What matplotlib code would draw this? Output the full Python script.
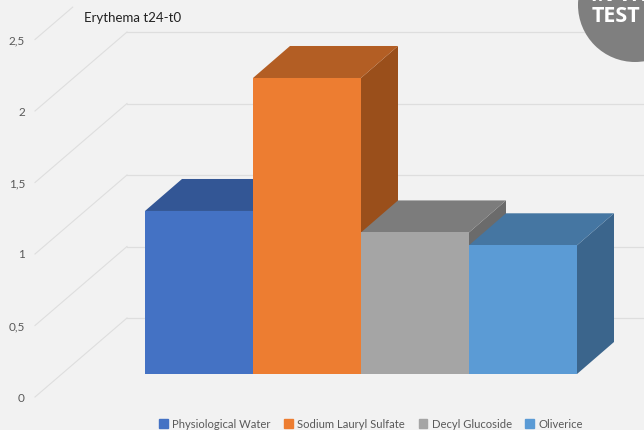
import matplotlib
matplotlib.use("Agg")
import matplotlib.pyplot as plt
from matplotlib.patches import Polygon, Ellipse, Patch

categories = ["Physiological Water", "Sodium Lauryl Sulfate", "Decyl Glucoside", "Oliverice"]
values = [1.14, 2.07, 0.99, 0.90]
ticks = [0, 0.5, 1, 1.5, 2, 2.5]
tick_labels = ["0", "0,5", "1", "1,5", "2", "2,5"]

front_colors = ["#4472c4", "#ed7d31", "#a5a5a5", "#5b9bd5"]
top_colors = ["#335695", "#b35e24", "#7c7c7c", "#4576a2"]
side_colors = ["#2f4f88", "#9a4f1b", "#6b6b6b", "#3b658c"]

W, H = 644, 430
PX = 108.0   # pixels per category
PY = 143.0   # pixels per unit

# oblique depth in data units
bar_dx, bar_dy = 37 / PX, 32 / PY
wall_dx, wall_dy = 92 / PX, 79 / PY
front_dx, front_dy = -110 / PX, -23 / PY

plt.rcParams["font.family"] = ["Lato", "DejaVu Sans"]
fig = plt.figure(figsize=(W / 100, H / 100), dpi=100, facecolor="#f2f2f2")
ax = fig.add_axes([0, 0, 1, 1])
ax.set_xlim(-145 / PX, (W - 145) / PX)
ax.set_ylim(-(H - 374) / PY, 374 / PY)
ax.axis("off")

# walls: left side lines and back lines
for t, label in zip(ticks, tick_labels):
    frac = 1 if t < 2.5 else 0.41
    ax.plot([front_dx, front_dx + wall_dx * frac],
            [t + front_dy, t + front_dy + wall_dy * frac],
            color="#dedede", lw=0.8, zorder=1)
    if t < 2.5:
        ax.plot([front_dx + wall_dx, W / PX],
                [t + front_dy + wall_dy, t + front_dy + wall_dy],
                color="#dedede", lw=0.9, zorder=1)
    ax.text(front_dx - 10 / PX, t + front_dy - 1 / PY, label,
            ha="right", va="center", fontsize=8.5, color="#595959")

# bars, left to right so the later ones cover the earlier sides
for i, v in enumerate(values):
    z = 2 + i
    side = [(i + 1, 0), (i + 1 + bar_dx, bar_dy), (i + 1 + bar_dx, v + bar_dy), (i + 1, v)]
    top = [(i, v), (i + 1, v), (i + 1 + bar_dx, v + bar_dy), (i + bar_dx, v + bar_dy)]
    front = [(i, 0), (i + 1, 0), (i + 1, v), (i, v)]
    ax.add_patch(Polygon(side, color=side_colors[i], lw=0, zorder=z))
    ax.add_patch(Polygon(top, color=top_colors[i], lw=0, zorder=z))
    ax.add_patch(Polygon(front, color=front_colors[i], lw=0, zorder=z))

ax.text(84 / W, 1 - 18 / H, "Erythema t24-t0", transform=ax.transAxes,
        ha="left", va="center", fontsize=9.5, color="#222222")

# badge in the corner
badge = Ellipse((635 / W, 1 - 5 / H), 114 / W, 114 / H, transform=fig.transFigure,
                color="#7f7f7f", lw=0, zorder=10)
fig.add_artist(badge)
fig.text(591 / W, 1 + 4 / H, "IN VIVO", color="white", fontsize=14, fontweight="bold",
         ha="left", va="center", zorder=11, family="Open Sans")
fig.text(592 / W, 1 - 17 / H, "TEST", color="white", fontsize=15.5, fontweight="bold",
         ha="left", va="center", zorder=11, family="Open Sans")

handles = [Patch(color=c, label=n) for c, n in zip(front_colors, categories)]
fig.legend(handles=handles, ncol=4, loc="center", bbox_to_anchor=(371 / W, 1 - 424 / H),
           frameon=False, fontsize=8.1, handlelength=0.75, handleheight=0.75,
           handletextpad=0.4, columnspacing=1.2, labelcolor="#595959")

fig.savefig("out.png", dpi=100, facecolor=fig.get_facecolor())
